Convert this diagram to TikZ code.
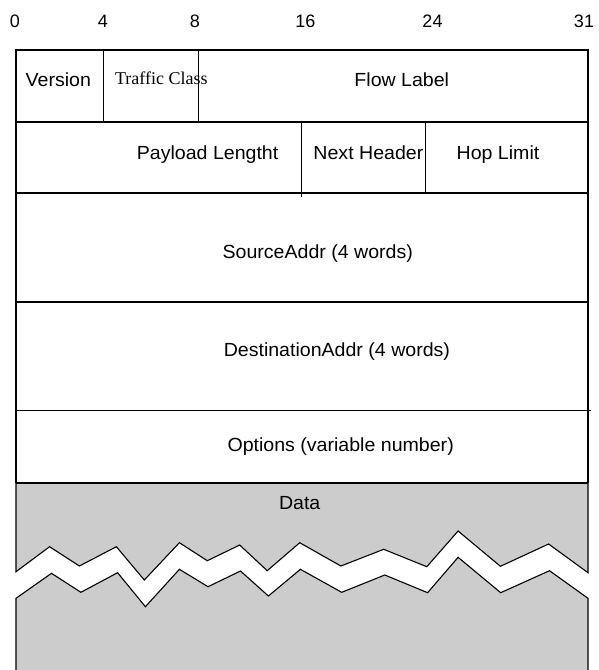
\documentclass[tikz,border=0pt]{standalone}
\usepackage{graphicx}
\usepackage{fontspec}
\setmainfont{Liberation Sans}
\newfontfamily\tmsfont{Liberation Serif}
\newcommand\sxa[1]{\scalebox{1.03}[1]{#1}}
\definecolor{datagrey}{HTML}{CCCCCC}
\begin{document}
\begin{tikzpicture}[x=1pt,y=-1pt,line width=1.1pt,line join=miter,
  lbl/.style={anchor=base,inner sep=0pt,font=\fontsize{19}{22}\selectfont},
  num/.style={anchor=base,inner sep=0pt,font=\fontsize{18}{21}\selectfont},
  ser/.style={anchor=base west,inner sep=0pt,font=\tmsfont\fontsize{18}{21}\selectfont}]
\useasboundingbox (0,0) rectangle (598,670);

% bit numbers
\node[num] (n0)  at (15,27.5)    {0};
\node[num] (n4)  at (103,27.5)   {4};
\node[num] (n8)  at (195,27.5)   {8};
\node[num] (n16) at (305.4,27.5) {16};
\node[num] (n24) at (432.5,27.5) {24};
\node[num] (n31) at (584,27.5)   {31};

% data area (upper part)
\filldraw[fill=datagrey] (16,483) -- (588,483) -- (588,572.7)
  -- (548.6,544) -- (500.4,566.3) -- (458.1,531) -- (426.8,566.7)
  -- (383.7,549.3) -- (340.9,566) -- (299.7,542.7) -- (267.2,570.7)
  -- (239.7,545) -- (207.3,560.7) -- (179.4,542.7) -- (144.3,580)
  -- (116.4,546.7) -- (79.4,566) -- (49.6,546.7) -- (16,571.7) -- cycle;
% data area (lower part)
\filldraw[fill=datagrey] (16,690) -- (16,598.3)
  -- (51.5,573.3) -- (80.9,592.3) -- (117.6,572.7) -- (145.4,606.7)
  -- (179.4,569.3) -- (208,586.7) -- (240.5,571) -- (268.4,596)
  -- (300.4,569.3) -- (341.7,592.3) -- (384.8,575) -- (427.6,592.7)
  -- (458.1,557.3) -- (500.7,592.7) -- (549.5,570.7) -- (588,598.3)
  -- (588,690);

% header outline
\coordinate (tl) at (16,50);
\coordinate (tr) at (588,50);
\draw (16,483) -- (tl) -- (tr) -- (588,483);
\draw (16,122) -- (588,122);
\draw (16,193) -- (588,193);
\draw (16,302) -- (588,302);
\draw (17,410.5) -- (591,410.5);
\draw (16,483) -- (588,483);
\draw (103.8,50) -- (103.8,122);
\draw (198.5,50) -- (198.5,122);
\draw (301.6,123) -- (301.6,197);
\draw (425.7,122) -- (425.7,193);

% field labels
\node[lbl] (ver)  at (58.3,86)   {\sxa{Version}};
\node[ser] (tc)   at (114.5,84)  {Traffic Class};
\node[lbl] (flow) at (401.8,86)  {\sxa{Flow Label}};
\node[lbl] (pay)  at (207.6,159.3) {\sxa{Payload Lengtht}};
\node[lbl] (nh)   at (368.4,159.3) {\sxa{Next Header}};
\node[lbl] (hop)  at (498,159.3) {\sxa{Hop Limit}};
\node[lbl] (src)  at (317.8,258.5) {\sxa{SourceAddr (4 words)}};
\node[lbl] (dst)  at (336.9,356.5) {\sxa{DestinationAddr (4 words)}};
\node[lbl] (opt)  at (340.7,451) {\sxa{Options (variable number)}};
\node[lbl] (dat)  at (299.7,509.5) {\sxa{Data}};
\end{tikzpicture}
\end{document}
